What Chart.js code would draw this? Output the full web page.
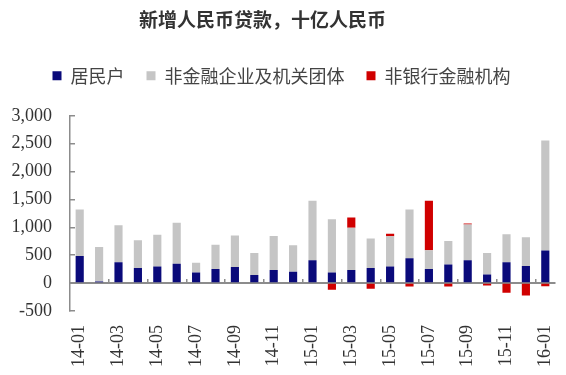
<!DOCTYPE html>
<html>
<head>
<meta charset="utf-8">
<script src="https://cdn.jsdelivr.net/npm/chart.js@4"></script>
<style>
  body { margin: 0; background: #fff; }
  #wrap { width: 566px; height: 375px; position: relative; }
</style>
</head>
<body>
<div id="wrap"><canvas id="loanChart"></canvas></div>
<script>
const months = ['14-01','14-02','14-03','14-04','14-05','14-06','14-07','14-08','14-09','14-10','14-11','14-12',
                '15-01','15-02','15-03','15-04','15-05','15-06','15-07','15-08','15-09','15-10','15-11','15-12','16-01'];

// 新增人民币贷款, 十亿人民币
const households = [486, 30, 372, 270, 300, 348, 192, 252, 288, 144, 234, 204,
                    408, 192, 234, 270, 300, 444, 252, 336, 408, 156, 372, 306, 583];
const corporates = [835, 619, 667, 499, 565, 733, 174, 438, 565, 396, 613, 475,
                    1069, 955, 757, 529, 541, 877, 337, 421, 643, 384, 505, 517, 1976];
const nonBanks   = [0, 0, 0, 0, 0, 0, 0, 0, 0, 0, 0, 0,
                    0, -120, 186, -100, 42, -60, 888, -60, 18, -42, -174, -222, -54];

const yTicks = [-500, 0, 500, 1000, 1500, 2000, 2500, 3000];

const axisGray = '#8c8c8c';
const serif = 'Liberation Serif';
const cjk = 'Noto Sans CJK SC';

// push the plot area down below the legend, and nudge the title a little left
const layoutTweaks = {
    id: 'layoutTweaks',
    beforeInit(chart) {
        const fit = chart.legend.fit;
        chart.legend.fit = function() {
            fit.bind(chart.legend)();
            this.height += 21;
        };
    },
    afterLayout(chart) {
        chart.titleBlock.right -= 38;
    }
};

const ctx = document.getElementById('loanChart').getContext('2d');

new Chart(ctx, {
    type: 'bar',
    data: {
        labels: months,
        datasets: [
            { label: '居民户', data: households, backgroundColor: '#0a0a7a' },
            { label: '非金融企业及机关团体', data: corporates, backgroundColor: '#c5c5c5' },
            { label: '非银行金融机构', data: nonBanks, backgroundColor: '#d00000' }
        ].map(ds => Object.assign(ds, {
            borderWidth: 0,
            barPercentage: 0.42,
            categoryPercentage: 1
        }))
    },
    options: {
        responsive: true,
        maintainAspectRatio: false,
        animation: false,
        layout: {
            padding: { left: 8, right: 11, bottom: 4 }
        },
        plugins: {
            title: {
                display: true,
                text: '新增人民币贷款，十亿人民币',
                color: '#333',
                font: { family: cjk, size: 19, weight: 'bold' },
                padding: { top: 8, bottom: 14 }
            },
            legend: {
                labels: {
                    boxWidth: 9,
                    boxHeight: 9,
                    padding: 22,
                    color: '#444',
                    font: { family: cjk, size: 18 }
                }
            },
            tooltip: { enabled: false }
        },
        scales: {
            x: {
                stacked: true,
                grid: { display: false, drawTicks: false },
                border: { display: false },
                afterFit: axis => {
                    axis.height = 60;
                    axis.paddingLeft = 0;
                    axis.paddingRight = 0;
                },
                ticks: {
                    autoSkip: false,
                    minRotation: 90,
                    maxRotation: 90,
                    padding: 14,
                    color: '#333',
                    font: { family: serif, size: 18 },
                    callback: (v, i) => i % 2 === 0 ? months[i] : ''
                }
            },
            // category axis line drawn at y = 0
            xZero: {
                type: 'category',
                position: { y: 0 },
                offset: true,
                grid: {
                    offset: true,
                    drawOnChartArea: false,
                    tickLength: -5,
                    lineWidth: 1.5,
                    color: c => (c.index > 0 && c.index < months.length && c.index % 2 === 0) ? axisGray : 'rgba(0,0,0,0)'
                },
                border: { color: axisGray, width: 2 },
                ticks: { display: false }
            },
            y: {
                stacked: true,
                min: -500,
                max: 3000,
                afterBuildTicks: axis => { axis.ticks = yTicks.map(v => ({ value: v })); },
                afterFit: axis => { axis.width = 62; },
                grid: {
                    drawOnChartArea: false,
                    tickLength: -5,
                    color: axisGray,
                    lineWidth: 1.5
                },
                border: { color: axisGray, width: 1.5 },
                ticks: {
                    padding: 23,
                    color: '#333',
                    font: { family: serif, size: 18 },
                    callback: v => v.toLocaleString('en-US')
                }
            }
        }
    },
    plugins: [layoutTweaks]
});
</script>
</body>
</html>
